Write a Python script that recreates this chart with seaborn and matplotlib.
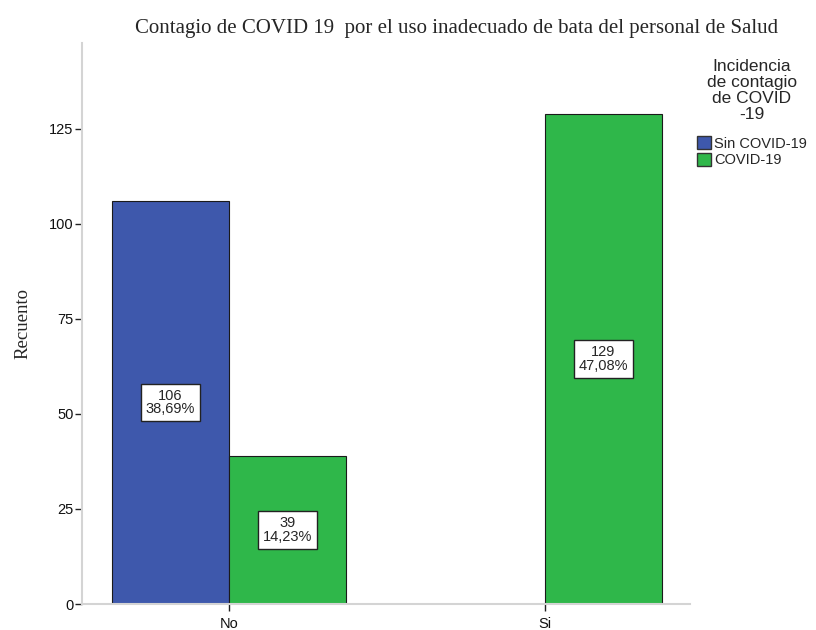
import numpy as np
import pandas as pd
import matplotlib
matplotlib.use("Agg")
import matplotlib.pyplot as plt
import seaborn as sns

# Datos
categorias = ["No", "No", "Si"]
grupos = ["Sin COVID-19", "COVID-19", "COVID-19"]
recuento = [106, 39, 129]
porcentaje = ["38,69%", "14,23%", "47,08%"]

orden_x = ["No", "Si"]
orden_hue = ["Sin COVID-19", "COVID-19"]
colores = {"Sin COVID-19": "#3e58ac", "COVID-19": "#2fb74a"}

df = pd.DataFrame({"bata": categorias, "grupo": grupos, "n": recuento, "pct": porcentaje})

sns.set_style("white")
plt.rcParams["font.family"] = ["Liberation Sans", "DejaVu Sans"]

fig = plt.figure(figsize=(8.16, 6.30), dpi=100)
ax = fig.add_axes([82 / 816, 26 / 630, (690 - 82) / 816, (604 - 43) / 630])

sns.barplot(data=df, x="bata", y="n", hue="grupo", order=orden_x, hue_order=orden_hue,
            palette=colores, width=0.74, edgecolor="#1a1a1a", linewidth=0.8,
            saturation=1, ax=ax, legend=False)

ax.set_xlim(-0.465, 1.459)
ax.set_ylim(0, 147.6)
ax.set_yticks([0, 25, 50, 75, 100, 125])
ax.set_xlabel("")
ax.set_ylabel("Recuento", family="Liberation Serif", fontsize=13.5, labelpad=13)

for s in ["top", "right"]:
    ax.spines[s].set_visible(False)
for s in ["left", "bottom"]:
    ax.spines[s].set_color("#d4d4d4")
    ax.spines[s].set_linewidth(1.5)
ax.tick_params(axis="both", which="major", length=5, width=1, color="#222222",
               labelsize=10.5, labelcolor="#111111", direction="out",
               left=True, bottom=True)
ax.tick_params(axis="y", pad=1)
ax.tick_params(axis="x", pad=4)

# etiquetas dentro de las barras
for cont, nivel in zip(ax.containers, orden_hue):
    sub = df[df["grupo"] == nivel].set_index("bata")
    for barra, cat in zip(cont, [c for c in orden_x if c in sub.index]):
        h = barra.get_height()
        if np.isnan(h) or h == 0:
            continue
        xc = barra.get_x() + barra.get_width() / 2
        ax.text(xc, h / 2, f"{int(sub.loc[cat, 'n'])}\n{sub.loc[cat, 'pct']}",
                ha="center", va="center", fontsize=10.5, linespacing=0.95,
                bbox=dict(boxstyle="square,pad=0.35", fc="white", ec="#222222", lw=1))

fig.text(457 / 816, 1 - 28 / 630, "Contagio de COVID 19  por el uso inadecuado de bata del personal de Salud",
         ha="center", va="center", family="Liberation Serif", fontsize=15)

handles = [plt.Rectangle((0, 0), 1, 1, fc=colores[k], ec="#333333", lw=1) for k in orden_hue]
leg = fig.legend(handles, orden_hue, title="Incidencia\nde contagio\nde COVID\n-19",
                 loc="upper left", bbox_to_anchor=(688 / 816, 1 - 50 / 630),
                 frameon=False, fontsize=10.5, title_fontsize=12.5,
                 handlelength=1.0, handleheight=1.0, handletextpad=0.2,
                 labelspacing=0.15, borderpad=0.1)
leg.get_title().set_multialignment("center")
leg.get_title().set_linespacing(1.1)
leg._legend_box.align = "center"
leg._legend_box.sep = 10

fig.savefig("out.png", dpi=100)
